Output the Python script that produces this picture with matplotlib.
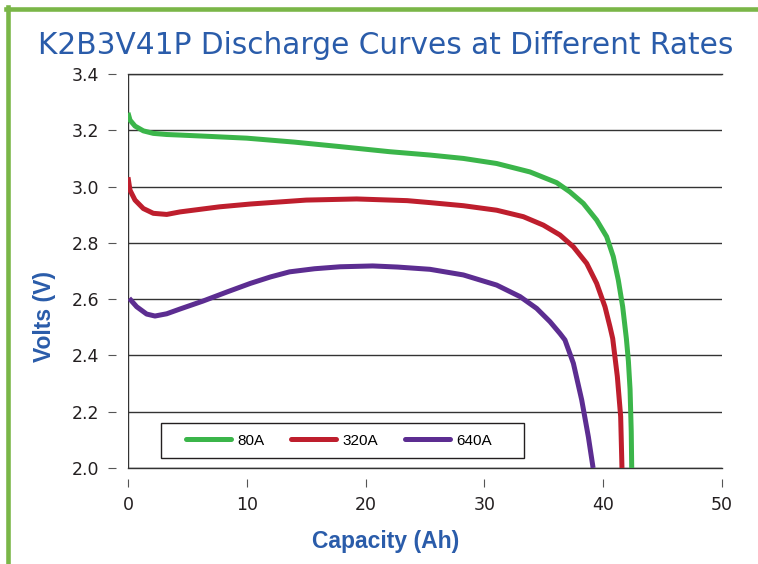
import matplotlib
matplotlib.use("Agg")
import matplotlib.pyplot as plt
from matplotlib.lines import Line2D
from matplotlib.patches import Rectangle

plt.rcParams['font.family'] = ['Liberation Sans', 'DejaVu Sans']

# Discharge curves (capacity Ah, volts)
cap_80a = [0, 0.17, 0.59, 1.29, 2.13, 3.26, 4.38, 7.0, 10.0, 14.0, 17.85, 22.0, 25.42, 28.23,
           31.03, 33.84, 36.08, 37.2, 38.33, 39.45, 40.29, 40.85, 41.27, 41.64, 41.95, 42.12,
           42.26, 42.36, 42.4]
volt_80a = [3.262, 3.236, 3.215, 3.198, 3.189, 3.185, 3.183, 3.178, 3.172, 3.158, 3.142, 3.124,
            3.112, 3.100, 3.082, 3.052, 3.014, 2.981, 2.940, 2.881, 2.822, 2.751, 2.668, 2.573,
            2.46, 2.38, 2.28, 2.13, 2.0]

cap_320a = [0, 0.17, 0.59, 1.29, 2.13, 3.26, 4.38, 7.7, 10.3, 15.0, 19.25, 23.5, 25.42, 28.23,
            31.03, 33.28, 34.96, 36.36, 37.49, 38.61, 39.45, 40.15, 40.57, 40.8, 41.19, 41.47,
            41.58]
volt_320a = [3.033, 2.987, 2.952, 2.922, 2.905, 2.901, 2.910, 2.928, 2.938, 2.952, 2.956, 2.950,
             2.943, 2.932, 2.916, 2.893, 2.863, 2.828, 2.786, 2.727, 2.656, 2.573, 2.502, 2.46,
             2.325, 2.183, 2.0]

cap_640a = [0.1, 0.73, 1.57, 2.27, 3.26, 4.38, 6.3, 8.3, 10.3, 12.0, 13.6, 15.7, 17.85, 20.6,
            22.7, 25.42, 28.23, 31.03, 33.0, 34.4, 35.52, 36.36, 36.78, 37.49, 38.19, 38.75, 39.15]
volt_640a = [2.603, 2.573, 2.547, 2.540, 2.548, 2.565, 2.593, 2.625, 2.656, 2.679, 2.697, 2.708,
             2.715, 2.718, 2.714, 2.706, 2.686, 2.650, 2.609, 2.567, 2.520, 2.478, 2.455, 2.372,
             2.242, 2.111, 2.0]

labels = ['80A', '320A', '640A']
colors = ['#3bb54a', '#be1e2d', '#5c2d91']

x_ticks = [0, 10, 20, 30, 40, 50]
y_ticks = [2.0, 2.2, 2.4, 2.6, 2.8, 3.0, 3.2, 3.4]

blue = '#2a5caa'
ink = '#231f20'

fig = plt.figure(figsize=(7.58, 5.64), dpi=100)
ax = fig.add_axes([128 / 758, 96 / 564, 594 / 758, 394 / 564])

series = [(cap_80a, volt_80a), (cap_320a, volt_320a), (cap_640a, volt_640a)]
for (xs, ys), lab, col in zip(series, labels, colors):
    ax.plot(xs, ys, color=col, lw=3.6, label=lab, solid_capstyle='butt',
            solid_joinstyle='round', zorder=3)

ax.set_xlim(0, 50)
ax.set_ylim(2.0, 3.4)
ax.set_xticks(x_ticks)
ax.set_yticks(y_ticks)
ax.set_yticklabels([f'{v:.1f}' for v in y_ticks])

# gridlines and the left axis line
ax.yaxis.grid(True, color='#333333', lw=1)
ax.axvline(0, color='#333333', lw=1, zorder=2)
ax.axhline(y_ticks[0], color='#333333', lw=1, zorder=2, clip_on=False)
ax.axhline(y_ticks[-1], color='#333333', lw=1, zorder=2, clip_on=False)
for side in ['top', 'right', 'left', 'bottom']:
    ax.spines[side].set_visible(False)
ax.spines['left'].set_position(('outward', 9))
ax.spines['bottom'].set_position(('outward', 8))
ax.tick_params(axis='both', direction='out', length=5.5, width=0.8, color='#555555',
               labelsize=12.5, labelcolor=ink)
ax.tick_params(axis='y', pad=6)
ax.tick_params(axis='x', pad=7)
for lbl in ax.get_xticklabels() + ax.get_yticklabels():
    lbl.set_family('DejaVu Sans')

fig.text(386 / 758, (564 - 548) / 564, 'Capacity (Ah)', ha='center', va='baseline',
         fontsize=16.5, fontweight='bold', color=blue)
fig.text(45 / 758, (564 - 316) / 564, 'Volts (V)', ha='center', va='center', rotation=90,
         fontsize=16.5, fontweight='bold', color=blue)

# legend: box drawn separately, entries placed inside it
ax.add_patch(Rectangle((0.055, 0.0246), 0.6117, 0.0889, transform=ax.transAxes,
                       facecolor='white', edgecolor=ink, lw=1.0, zorder=4))
leg = ax.legend(loc='center left', bbox_to_anchor=((186 - 128) / 594, 0.069), ncol=3,
                fontsize=11, frameon=False, handlelength=2.95, handletextpad=0.4,
                columnspacing=1.75, borderpad=0, borderaxespad=0)
leg.set_zorder(5)
for line in leg.get_lines():
    line.set_linewidth(3.6)
    line.set_solid_capstyle('round')

fig.text(386 / 758, (564 - 54.3) / 564, 'K2B3V41P Discharge Curves at Different Rates',
         ha='center', va='baseline', fontsize=21.3, color=blue, family='DejaVu Sans')

# green frame on the left and top
frame_green = '#7ab648'
fig.add_artist(Line2D([8.3 / 758, 8.3 / 758], [0, (564 - 6.5) / 564],
                      transform=fig.transFigure, color=frame_green, lw=3.3))
fig.add_artist(Line2D([6 / 758, 1], [(564 - 8.5) / 564, (564 - 8.5) / 564],
                      transform=fig.transFigure, color=frame_green, lw=3.3))

fig.savefig('out.png', dpi=100)
